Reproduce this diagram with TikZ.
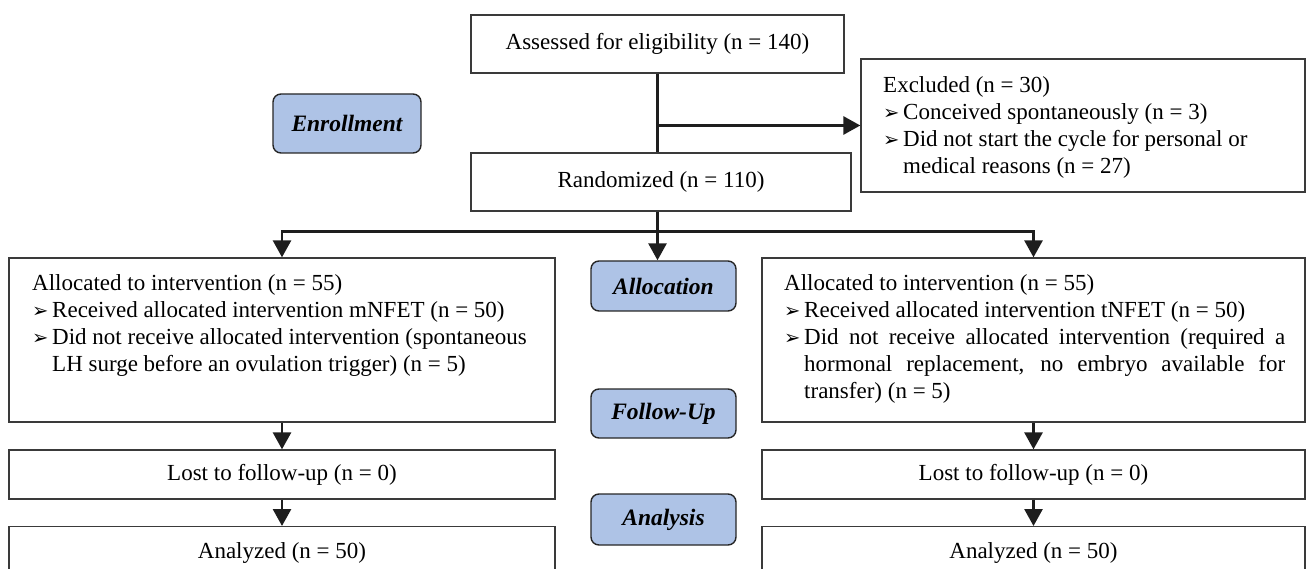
\documentclass[tikz,border=0pt]{standalone}
\usepackage{fontspec}
\setmainfont{Liberation Serif}
\newfontfamily\dejavu{DejaVu Sans}
\usetikzlibrary{arrows.meta}
\definecolor{lblue}{HTML}{AEC3E6}
\definecolor{bordc}{HTML}{3A3A3A}
\definecolor{linec}{HTML}{1E1E1E}
\newcommand\bul{\makebox[20pt][l]{\dejavu\fontsize{19.5}{19.5}\selectfont\raisebox{-0.5pt}{➢}}}
\begin{document}
\begin{tikzpicture}[x=1pt,y=-1pt,
  box/.style={draw=bordc, line width=1.3pt, inner sep=0pt, font=\fontsize{23}{27}\selectfont},
  lbl/.style={draw=black!85, line width=1.4pt, fill=lblue, rounded corners=8pt, inner sep=0pt, font=\fontsize{23.5}{27}\selectfont\bfseries\itshape},
  txt/.style={inner sep=0pt, anchor=north west, align=left, font=\fontsize{23}{27}\selectfont},
  arr/.style={draw=linec, line width=2.8pt, -{Triangle[length=17pt,width=18pt]}},
  ln/.style={draw=linec, line width=2.8pt}]
\useasboundingbox (0,0) rectangle (1307,569);
\clip (0,0) rectangle (1307,569);

% top column
\node[box, minimum width=373pt, minimum height=58pt] (assess) at (657.5,44) {Assessed for eligibility (n = 140)};
\node[box, minimum width=380pt, minimum height=58pt] (rand) at (661,182) {Randomized (n = 110)};
\node[box, minimum width=444pt, minimum height=133pt] (excl) at (1083,125.5) {};
\node[txt] (exclt) at (883,73) {\strut Excluded (n = 30)\\ \bul Conceived spontaneously (n = 3)\\ \bul Did not start the cycle for personal or\\ \hspace*{20pt}medical reasons (n = 27)};

% stage labels
\node[lbl, minimum width=148pt, minimum height=59pt] (enroll) at (347,123.5) {Enrollment};
\node[lbl, minimum width=145pt, minimum height=50pt] (alloc) at (663.5,286) {Allocation};
\node[lbl, minimum width=145pt, minimum height=49pt] (follow) at (663.5,413.5) {Follow-Up};
\node[lbl, minimum width=145pt, minimum height=51pt] (analysis) at (663.5,519.5) {Analysis};

% allocation boxes
\node[box, minimum width=546pt, minimum height=164pt] (allocL) at (282,340) {};
\node[txt] (allocLt) at (32,271) {\strut Allocated to intervention (n = 55)\\ \bul Received allocated intervention mNFET (n = 50)\\ \bul Did not receive allocated intervention (spontaneous\\ \hspace*{20pt}LH surge before an ovulation trigger) (n = 5)};
\node[box, minimum width=543pt, minimum height=164pt] (allocR) at (1033.5,340) {};
\node[txt] (allocRt) at (784,271) {\strut Allocated to intervention (n = 55)\\ \bul Received allocated intervention tNFET (n = 50)\\ \bul\hbox to 481pt{Did not receive allocated intervention (required a}\\ \hspace*{20pt}\hbox to 481pt{hormonal replacement, no embryo available for}\\ \hspace*{20pt}transfer) (n = 5)};

% follow-up and analysis boxes
\node[box, minimum width=546pt, minimum height=49pt] (lostL) at (282,474.5) {Lost to follow-up (n = 0)};
\node[box, minimum width=543pt, minimum height=49pt] (lostR) at (1033.5,474.5) {Lost to follow-up (n = 0)};
\node[box, minimum width=546pt, anchor=north, text height=32pt, text depth=40pt] (anL) at (282,526) {Analyzed (n = 50)};
\node[box, minimum width=543pt, anchor=north, text height=32pt, text depth=40pt] (anR) at (1033.5,526) {Analyzed (n = 50)};

% connectors
\draw[ln] (assess.south) -- (assess.south |- rand.north);
\draw[arr] (assess.south |- excl.west) -- (excl.west);
\coordinate (split) at ([yshift=-158pt]assess.south);
\draw[ln] (assess.south |- rand.south) -- (split);
\draw[arr] (split) -| (allocL.north);
\draw[arr] (split) -| (allocR.north);
\draw[arr] (split) -- (split |- alloc.north);
\draw[arr] (allocL.south) -- (lostL.north);
\draw[arr] (lostL.south) -- (anL.north);
\draw[arr] (allocR.south) -- (lostR.north);
\draw[arr] (lostR.south) -- (anR.north);
\end{tikzpicture}
\end{document}
